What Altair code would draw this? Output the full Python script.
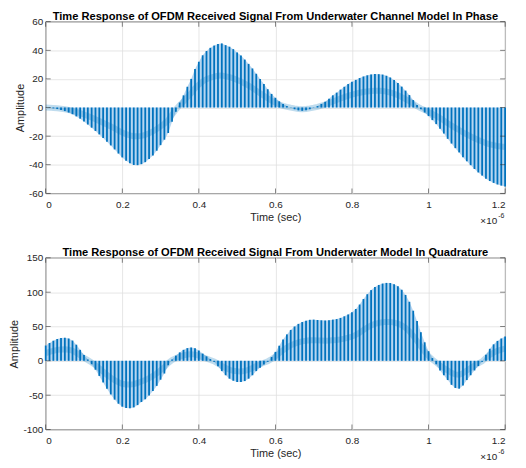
import altair as alt
import pandas as pd

# time axis in microseconds (axis shows x 10^-6)
t_us = [round(i * 0.01, 2) for i in range(121)]

in_phase = [
    0, -0.2, -0.6, -1.1, -1.7, -2.5, -3.5, -4.7, -6.2, -7.8,
    -9.8, -11.9, -14.1, -16.4, -18.8, -21.3, -23.9, -26.5, -29.3, -32.2,
    -34.9, -37.2, -39.0, -40.2, -40.3, -39.6, -38.2, -36.0, -33.5, -30.2,
    -26.3, -22.5, -17.8, -10.0, -3.0, 3.5, 8.5, 14.5, 20.0, 27.0,
    32.0, 36.5, 39.5, 41.7, 43.3, 44.4, 44.8, 43.6, 42.5, 40.8,
    38.5, 36.4, 33.5, 30.5, 27.3, 23.6, 20.0, 16.5, 12.8, 9.5,
    6.8, 4.3, 2.4, 1.0, -0.2, -1.2, -2.0, -2.3, -2.0, -1.2,
    -0.2, 1.0, 2.5, 4.0, 6.2, 8.5, 10.4, 12.5, 14.5, 16.4,
    18.0, 19.3, 20.6, 21.7, 22.5, 23.1, 23.4, 23.3, 23.0, 22.2,
    21.0, 19.3, 17.2, 14.6, 11.8, 8.7, 5.2, 1.8, -1.2, -3.5,
    -6.0, -8.8, -11.6, -14.8, -18.2, -21.9, -25.2, -28.4, -31.4, -34.8,
    -37.6, -40.3, -43.0, -45.4, -47.6, -49.8, -51.4, -52.7, -53.8, -54.6,
    -55.2,
]

quadrature = [
    22.3, 26.0, 29.3, 31.8, 33.2, 33.6, 32.5, 29.5, 23.5, 16.0,
    8.5, 2.0, -5.0, -13.0, -22.0, -31.5, -40.7, -49.0, -56.5, -62.5,
    -66.8, -68.8, -69.2, -67.8, -64.5, -60.0, -56.0, -50.5, -44.0, -36.5,
    -27.5, -18.5, -6.5, 2.0, 7.5, 12.3, 16.0, 18.5, 19.4, 18.2,
    15.0, 10.5, 6.5, 2.5, -1.5, -8.0, -15.0, -21.0, -26.0, -29.0,
    -30.8, -31.0, -29.5, -26.0, -21.0, -15.0, -10.0, -5.5, -1.5, 5.5,
    13.0, 22.0, 31.0, 38.5, 45.0, 50.0, 53.8, 56.5, 58.5, 59.7,
    60.0, 59.5, 59.0, 58.7, 59.0, 60.0, 60.8, 62.5, 64.8, 67.5,
    70.8, 75.5, 82.0, 90.0, 97.0, 103.0, 107.5, 110.5, 112.5, 113.5,
    113.3, 111.5, 108.5, 103.5, 96.0, 86.0, 73.0, 58.0, 41.7, 27.0,
    14.0, 4.0, -5.0, -14.0, -21.0, -28.0, -35.0, -39.5, -40.5, -36.0,
    -28.0, -21.0, -14.0, -7.5, -1.5, 9.0, 17.5, 24.0, 29.0, 32.5,
    35.4,
]

x_ticks = [0, 0.2, 0.4, 0.6, 0.8, 1.0, 1.2]
y_ticks_1 = [-60, -40, -20, 0, 20, 40, 60]
y_ticks_2 = [-100, -50, 0, 50, 100, 150]

title_1 = "Time Response of OFDM Received Signal From Underwater Channel Model In Phase"
title_2 = "Time Response of OFDM Received Signal From Underwater Model In Quadrature"

W, H = 463, 173
BLUE = "#0072BD"
TXT = "#262626"
FONT = "Liberation Sans"


def panel(values, yticks, title):
    df = pd.DataFrame({"t": t_us, "v": values})
    ydom = [min(yticks), max(yticks)]
    xs = alt.Scale(domain=[0, 1.2], nice=False, zero=False)
    ys = alt.Scale(domain=ydom, nice=False, zero=False)
    xax = alt.Axis(values=x_ticks, labelExpr="'' + datum.value", title="Time (sec)",
                   grid=True, ticks=False, domain=False, labelPadding=6,
                   titlePadding=2, labelOverlap=False)
    yax = alt.Axis(values=yticks, labelExpr="'' + datum.value", title="Amplitude",
                   grid=True, ticks=False, domain=False, labelPadding=3,
                   titlePadding=3, labelOverlap=False)
    X = lambda f: alt.X(f, scale=xs, axis=xax, title="Time (sec)")
    Y = lambda f: alt.Y(f, scale=ys, axis=yax, title="Amplitude")
    base = alt.Chart(df)
    area = base.mark_area(color="#a9cfee", opacity=0.85).encode(
        x=X("t:Q"), y=Y("v:Q"), y2=alt.datum(0),
    )
    band = base.transform_calculate(h="datum.v / 2").mark_line(
        color=BLUE, strokeWidth=6, opacity=0.25
    ).encode(x=X("t:Q"), y=Y("h:Q"))
    stems = base.mark_rule(color=BLUE, strokeWidth=1.8).encode(
        x=X("t:Q"), y=Y("v:Q"), y2=alt.datum(0),
    )
    xt = pd.DataFrame({"t": x_ticks})
    yt = pd.DataFrame({"v": yticks})
    tick_kw = dict(color=TXT, thickness=0.8, size=5)
    xt_bot = alt.Chart(xt).mark_tick(**tick_kw).encode(
        x=X("t:Q"), y=alt.value(H - 2.5))
    xt_top = alt.Chart(xt).mark_tick(**tick_kw).encode(
        x=X("t:Q"), y=alt.value(2.5))
    yt_l = alt.Chart(yt).mark_tick(**tick_kw).encode(
        y=Y("v:Q"), x=alt.value(2.5))
    yt_r = alt.Chart(yt).mark_tick(**tick_kw).encode(
        y=Y("v:Q"), x=alt.value(W - 2.5))
    ex = pd.DataFrame({"a": ["×10"], "b": ["-6"]})
    e1 = alt.Chart(ex).mark_text(align="right", baseline="middle", fontSize=10,
                                 font=FONT, color=TXT).encode(
        text="a:N", x=alt.value(455), y=alt.value(H + 28))
    e2 = alt.Chart(ex).mark_text(align="left", baseline="middle", fontSize=7,
                                 font=FONT, color=TXT).encode(
        text="b:N", x=alt.value(456), y=alt.value(H + 23))
    return alt.layer(area, band, stems, xt_bot, xt_top, yt_l, yt_r, e1, e2).properties(
        width=W, height=H,
        title=alt.TitleParams(title, fontSize=11.2, font=FONT, fontWeight="bold",
                              color="#000000", offset=-5),
    )


chart = alt.vconcat(
    panel(in_phase, y_ticks_1, title_1),
    panel(quadrature, y_ticks_2, title_2),
    spacing=19,
    padding={"left": 0, "top": 0, "right": 0, "bottom": 0},
).configure_view(
    stroke=TXT, strokeWidth=0.8
).configure_axis(
    labelFont=FONT, titleFont=FONT, labelFontSize=10, titleFontSize=11,
    labelColor=TXT, titleColor=TXT, titleFontWeight="normal",
    gridColor="#dfdfdf", gridWidth=0.8,
)

chart.save("out.html", embed_options={"renderer": "svg", "actions": False})
